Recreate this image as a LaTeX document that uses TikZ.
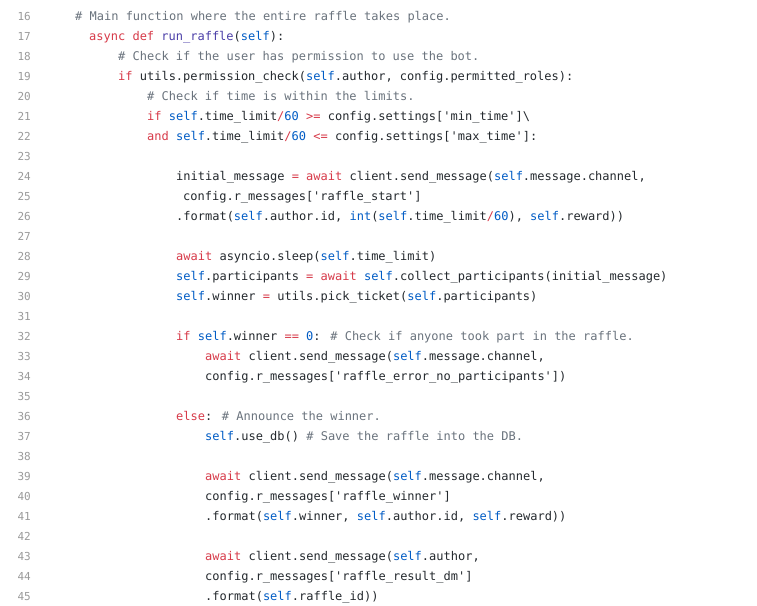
\documentclass[tikz,border=0pt]{standalone}
\usepackage{fontspec}
\newfontfamily\codefont{DejaVu Sans Mono}
\definecolor{txt}{HTML}{24292E}
\definecolor{kw}{HTML}{D73A49}
\definecolor{bl}{HTML}{005CC5}
\definecolor{cm}{HTML}{6A737D}
\definecolor{fn}{HTML}{4B3FA8}
\definecolor{ln}{HTML}{9A9A9A}
\newcommand\K[1]{\textcolor{kw}{#1}}
\newcommand\B[1]{\textcolor{bl}{#1}}
\newcommand\Cm[1]{\textcolor{cm}{#1}}
\newcommand\Fn[1]{\textcolor{fn}{#1}}
\newcommand\q{\textquotesingle}
\newcommand\SELF{\B{self}}
\newcommand\CL[3]{\node[code] (c#1) at (#2,{16+20*(#1-16)+4.3}) {#3};}
\begin{document}
\begin{tikzpicture}[x=1pt,y=-1pt,
  code/.style={anchor=base west,inner sep=0pt,font=\codefont\fontsize{12}{14}\selectfont,text=txt},
  num/.style={anchor=base east,inner sep=0pt,font=\codefont\fontsize{11}{13}\selectfont,text=ln}]
\useasboundingbox[fill=white] (0,0) rectangle (757,605);
\foreach \n in {16,...,45}{\node[num] (n\n) at (31,{16+20*(\n-16)+4.3}) {\n};}
\CL{16}{75}{\Cm{\# Main function where the entire raffle takes place.}}
\CL{17}{89}{\K{async} \K{def} \Fn{run\_raffle}(\SELF):}
\CL{18}{118}{\Cm{\# Check if the user has permission to use the bot.}}
\CL{19}{118}{\K{if} utils.permission\_check(\SELF.author, config.permitted\_roles):}
\CL{20}{147}{\Cm{\# Check if time is within the limits.}}
\CL{21}{147}{\K{if} \SELF.time\_limit\K{/}\B{60} \K{>=} config.settings[\q min\_time\q]\textbackslash}
\CL{22}{147}{\K{and} \SELF.time\_limit\K{/}\B{60} \K{<=} config.settings[\q max\_time\q]:}
\CL{24}{176}{initial\_message \K{=} \K{await} client.send\_message(\SELF.message.channel,}
\CL{25}{183}{config.r\_messages[\q raffle\_start\q]}
\CL{26}{176}{.format(\SELF.author.id, \B{int}(\SELF.time\_limit\K{/}\B{60}), \SELF.reward))}
\CL{28}{176}{\K{await} asyncio.sleep(\SELF.time\_limit)}
\CL{29}{176}{\SELF.participants \K{=} \K{await} \SELF.collect\_participants(initial\_message)}
\CL{30}{176}{\SELF.winner \K{=} utils.pick\_ticket(\SELF.participants)}
\CL{32}{176}{\K{if} \SELF.winner \K{==} \B{0}: \Cm{\# Check if anyone took part in the raffle.}}
\CL{33}{205}{\K{await} client.send\_message(\SELF.message.channel,}
\CL{34}{205}{config.r\_messages[\q raffle\_error\_no\_participants\q])}
\CL{36}{176}{\K{else}: \Cm{\# Announce the winner.}}
\CL{37}{205}{\SELF.use\_db() \Cm{\# Save the raffle into the DB.}}
\CL{39}{205}{\K{await} client.send\_message(\SELF.message.channel,}
\CL{40}{205}{config.r\_messages[\q raffle\_winner\q]}
\CL{41}{205}{.format(\SELF.winner, \SELF.author.id, \SELF.reward))}
\CL{43}{205}{\K{await} client.send\_message(\SELF.author,}
\CL{44}{205}{config.r\_messages[\q raffle\_result\_dm\q]}
\CL{45}{205}{.format(\SELF.raffle\_id))}
\end{tikzpicture}
\end{document}
